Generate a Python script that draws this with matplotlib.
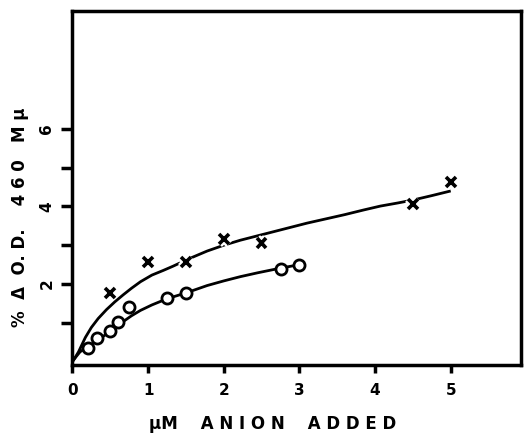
import matplotlib
matplotlib.use("Agg")
import matplotlib.pyplot as plt
import matplotlib.patheffects as pe

# measured points: crosses
cross_x = [0.5, 1.0, 1.5, 2.0, 2.5, 4.5, 5.0]
cross_y = [1.76, 2.56, 2.56, 3.16, 3.05, 4.06, 4.64]

# measured points: circles
circ_x = [0.2, 0.33, 0.5, 0.6, 0.75, 1.25, 1.5, 2.75, 3.0]
circ_y = [0.35, 0.60, 0.79, 1.02, 1.41, 1.65, 1.78, 2.39, 2.50]

# hand-drawn curves
upper_x = [0, 0.04, 0.08, 0.17, 0.25, 0.34, 0.45, 0.56, 0.67, 0.78, 0.9, 1.05, 1.2, 1.33, 1.55, 1.78, 2.0, 2.22, 2.44, 2.66, 2.9, 3.1, 3.35, 3.6, 3.85, 4.07, 4.3, 4.51, 4.75, 5.0]
upper_y = [0, 0.12, 0.25, 0.62, 0.88, 1.11, 1.34, 1.54, 1.72, 1.89, 2.06, 2.23, 2.35, 2.46, 2.66, 2.85, 3.00, 3.13, 3.24, 3.35, 3.47, 3.57, 3.68, 3.79, 3.91, 4.01, 4.09, 4.17, 4.28, 4.40]
lower_x = [0, 0.05, 0.1, 0.2, 0.34, 0.45, 0.56, 0.67, 0.78, 0.9, 1.05, 1.25, 1.5, 1.78, 2.0, 2.22, 2.45, 2.7, 3.0]
lower_y = [0, 0.13, 0.25, 0.38, 0.56, 0.71, 0.86, 1.03, 1.18, 1.32, 1.46, 1.62, 1.77, 1.96, 2.08, 2.19, 2.29, 2.39, 2.50]

xticks = [0, 1, 2, 3, 4, 5]
xticklabels = ["0", "1", "2", "3", "4", "5"]
yticks = [1, 2, 3, 4, 5, 6]
yticklabels = ["", "2", "", "4", "", "6"]

fig = plt.figure(figsize=(5.29, 4.43), dpi=100)
ax = fig.add_axes([0.137, 0.176, 0.848, 0.799])

ax.plot(upper_x, upper_y, color="black", lw=2.0, solid_capstyle="butt",
        solid_joinstyle="round", zorder=2)
ax.plot(lower_x, lower_y, color="black", lw=2.0, solid_capstyle="butt",
        solid_joinstyle="round", zorder=2)

ax.plot(cross_x, cross_y, linestyle="none", marker="x", ms=7, mew=2.6,
        color="black", zorder=4,
        path_effects=[pe.withStroke(linewidth=6, foreground="white")])
ax.plot(circ_x, circ_y, linestyle="none", marker="o", ms=8, mew=2.0,
        mec="black", mfc="white", zorder=4)

ax.set_xlim(0, 5.93)
ax.set_ylim(-0.09, 9.04)

ax.set_xticks(xticks)
ax.set_xticklabels(xticklabels, fontsize=11, fontweight="bold")
ax.set_yticks(yticks)
ax.set_yticklabels(yticklabels, fontsize=11, fontweight="bold", rotation=90,
                   va="center")
ax.tick_params(axis="x", direction="out", length=6, width=2.5, pad=7)
ax.tick_params(axis="y", direction="out", length=8, width=2.5, pad=5)

for s in ax.spines.values():
    s.set_linewidth(2.5)

fig.text(0.515, 0.022, "\u00b5M    A N I O N    A D D E D", ha="center",
         va="bottom", fontsize=12, fontweight="bold")
fig.text(0.038, 0.51, "%  \u0394  O. D.    4 6 0   M \u00b5", ha="center",
         va="center", rotation=90, fontsize=12, fontweight="bold")

fig.savefig("out.png", dpi=100)
